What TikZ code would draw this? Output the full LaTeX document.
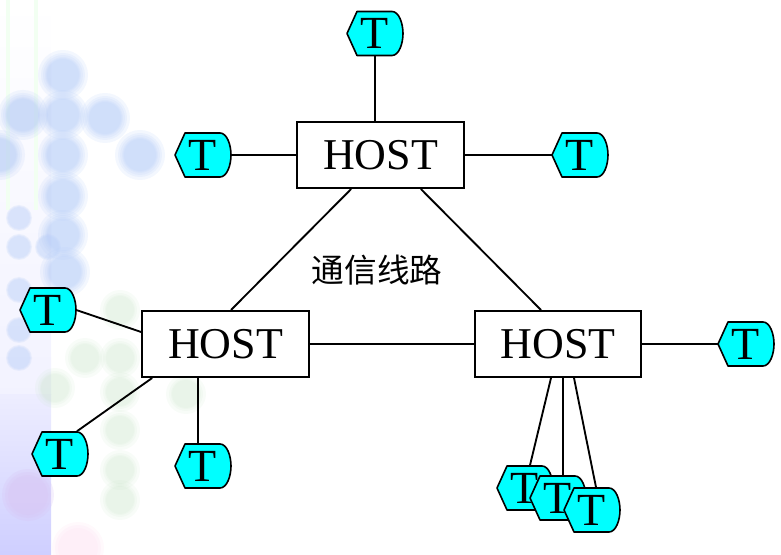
\documentclass[tikz,border=0pt]{standalone}
\usepackage{fontspec}
\setmainfont{Liberation Serif}
\newfontfamily\cjk{Noto Sans CJK SC}
\usetikzlibrary{calc}
\definecolor{dotblue}{HTML}{B9CFF8}
\definecolor{dotgreen}{HTML}{C8E4C8}
\definecolor{dotpink}{HTML}{D9C4F4}
\definecolor{termcyan}{HTML}{00FFFF}
\tikzset{
	hostbox/.style={draw,line width=1.5pt,fill=white,minimum width=125pt,minimum height=49.5pt,inner sep=0pt,font=\fontsize{33}{33}\selectfont},
	termtext/.style={minimum width=42pt,minimum height=33.75pt,inner sep=0pt,font=\fontsize{34.5}{34.5}\selectfont},
	termline/.style={draw,line width=1.2pt,fill=termcyan,line join=round},
	link/.style={line width=1.4pt}
}
\newcommand{\terminal}[3]{
	\draw[termline,shift={(#2,#3)}] (-28,0) -- (-18,-22) -- (17,-22) .. controls (24,-22) and (28,-10) .. (28,0) .. controls (28,10) and (24,22) .. (17,22) -- (-18,22) -- cycle;
	\node[termtext] (#1) at (#2,#3) {T};
}
\begin{document}
\begin{tikzpicture}[x=.75pt,y=-.75pt]
	\useasboundingbox (0,0) rectangle (781,555);
	% background
	\shade[top color=white,bottom color=blue!5!white] (0,0) rectangle (51,395);
	\shade[top color=blue!7!white,bottom color=blue!19!white] (0,395) rectangle (51,555);
	\fill[green!5!white] (6,0) rectangle (10,210);
	\fill[green!5!white] (34,0) rectangle (38,210);
	\foreach \r in {26,23,20}
	\fill[dotpink,opacity=.25] (28,495) circle (\r);
	\foreach \r in {26,23,20}
	\fill[magenta!20!white,opacity=.12] (78,548) circle (\r);
	\foreach \x/\y in {63/75,63/115,63/155,63/196,63/235,65/272,23/115,105/118,140/155,0/155}
	\foreach \r in {25,22,20,18,17,16}
	\fill[dotblue,opacity=.17] (\x,\y) circle (\r);
	\foreach \x/\y in {19/218,19/247,48/247,19/290,19/330,19/358}
	\foreach \r in {13,12,11}
	\fill[dotblue,opacity=.2] (\x,\y) circle (\r);
	\foreach \x/\y in {120/310,85/358,120/358,55/388,120/392,186/394,120/430,120/470,120/500}
	\foreach \r in {20,17,15,14}
	\fill[dotgreen,opacity=.12] (\x,\y) circle (\r);
	% hosts
	\node[hostbox] (hosta) at (380.5,155) {HOST};
	\node[hostbox] (hostb) at (225.5,344) {HOST};
	\node[hostbox] (hostc) at (558,344) {HOST};
	\node[font=\cjk\fontsize{24.5}{24.5}\selectfont] (lbl) at (377,270) {通信线路};
	% terminals
	\terminal{ta}{375}{33.5}
	\terminal{tb}{203}{155}
	\terminal{tc}{580}{155}
	\terminal{td}{48}{310}
	\terminal{te}{60}{454}
	\terminal{tf}{203}{466}
	\terminal{tg}{746}{344}
	\terminal{th}{525}{488}
	\terminal{ti}{558}{498}
	\terminal{tj}{592}{510}
	% links
	\draw[link] ($(hosta.south west)+(55,0)$) -- ($(hostb.north)+(5.5,0)$);
	\draw[link] ($(hosta.south east)+(-44,0)$) -- ($(hostc.north)+(-17,0)$);
	\draw[link] (hostb.east) -- (hostc.west);
	\draw[link] (ta.south) -- (ta.south |- hosta.north);
	\draw[link] (tb.east) -- (tb.east -| hosta.west);
	\draw[link] (tc.west) -- (tc.west -| hosta.east);
	\draw[link] (td.east) -- ($(hostb.west)+(0,-12)$);
	\draw[link] ($(te.north)+(17,0)$) -- ($(hostb.south west)+(11,0)$);
	\draw[link] ($(tf.north)+(-5,0)$) -- ($(hostb.south)+(-27.5,0)$);
	\draw[link] (tg.west) -- (hostc.east);
	\draw[link] ($(th.north)+(5,0)$) -- ($(hostc.south)+(-7,0)$);
	\draw[link] ($(ti.north)+(5,0)$) -- ($(hostc.south)+(5,0)$);
	\draw[link] ($(tj.north)+(4,0)$) -- ($(hostc.south)+(16,0)$);
\end{tikzpicture}
\end{document}
